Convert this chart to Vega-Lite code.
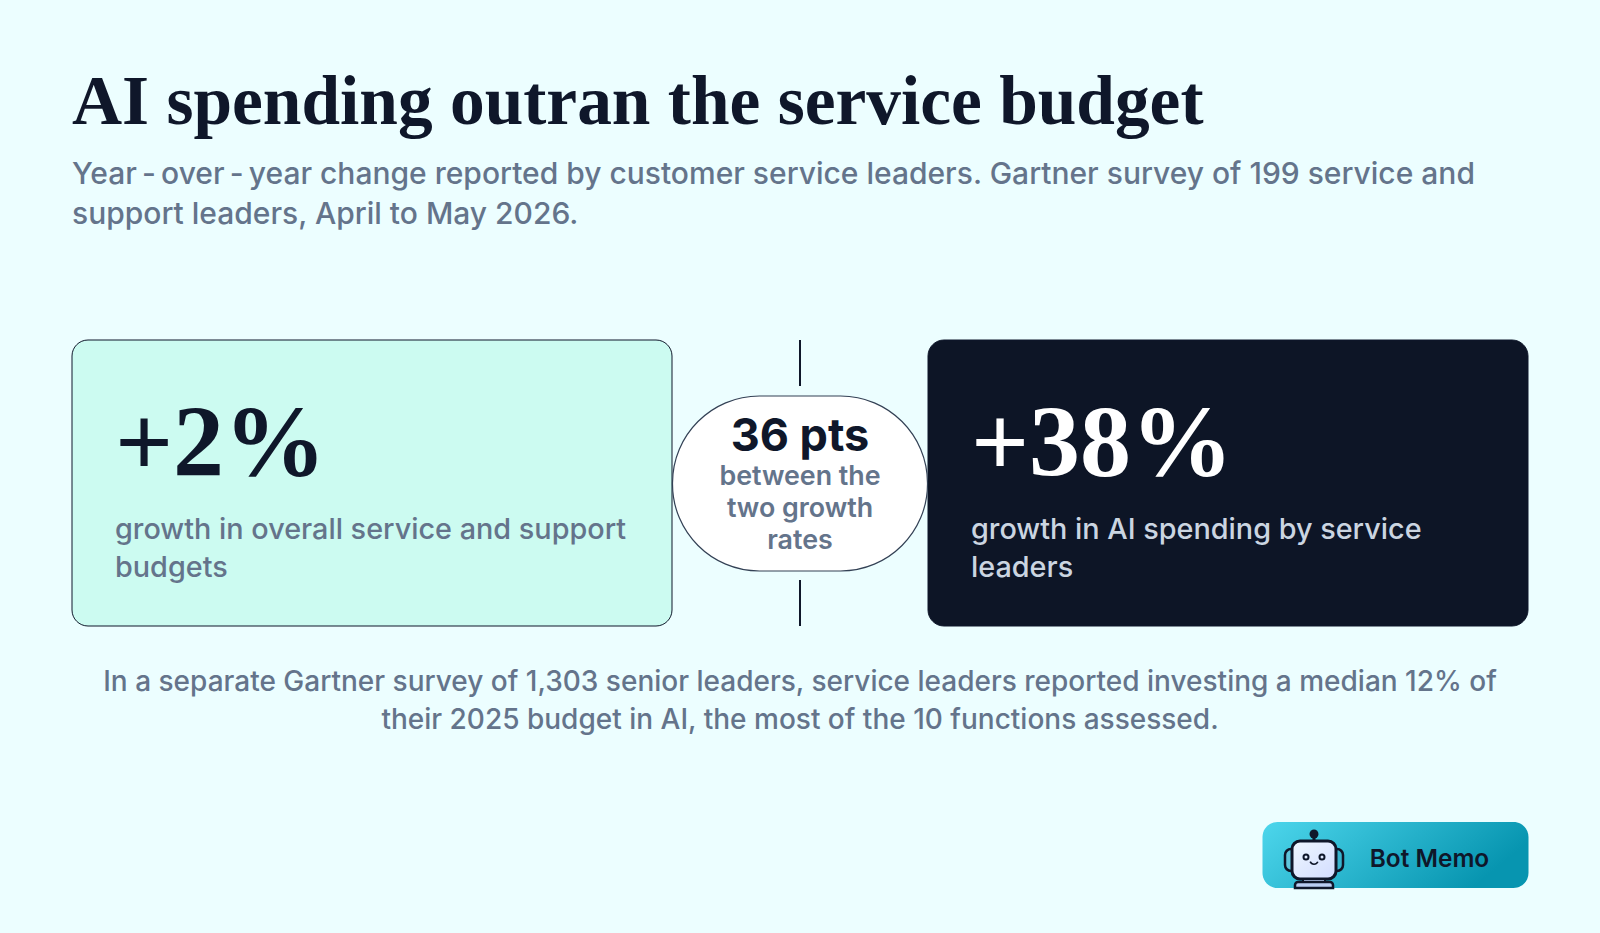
{
  "$schema": "https://vega.github.io/schema/vega-lite/v6.json",
  "description": "Year-over-year change in service budgets vs AI spending",
  "width": 1600,
  "height": 933,
  "padding": 0,
  "autosize": "none",
  "background": "#ecfeff",
  "title": {
    "text": "AI spending outran the service budget",
    "subtitle": ["Year\u2009-\u2009over\u2009-\u2009year change reported by customer service leaders. Gartner survey of 199 service and", "support leaders, April to May 2026."],
    "anchor": "start",
    "frame": "group",
    "dx": 72,
    "dy": 235,
    "font": "Liberation Serif",
    "fontSize": 69.4,
    "fontWeight": "bold",
    "color": "#0f172a",
    "subtitleFont": "Inter",
    "subtitleFontSize": 30,
    "subtitleFontWeight": 500,
    "subtitleColor": "#64748b",
    "subtitleLineHeight": 40,
    "subtitlePadding": 22
  },
  "config": {"view": {"stroke": null}, "text": {"lineBreak": "\n"}},
  "datasets": {
    "panels": [
      {"panel": "budget", "level": "middle", "growth": 0.02, "caption": "growth in overall service and support\nbudgets"},
      {"panel": "ai", "level": "middle", "growth": 0.38, "caption": "growth in AI spending by service\nleaders"}
    ],
    "gap": [
      {"panel": "gap", "level": "middle", "points": "36 pts", "detail": "between the\ntwo growth\nrates"}
    ],
    "connectors": [
      {"panel": "gap", "level": "upper"},
      {"panel": "gap", "level": "lower"}
    ],
    "note": [
      {"panel": "gap", "level": "note", "text": "In a separate Gartner survey of 1,303 senior leaders, service leaders reported investing a median 12% of\ntheir 2025 budget in AI, the most of the 10 functions assessed."}
    ],
    "badge": [
      {"item": "badge", "row": "badge", "brand": "Bot Memo"}
    ],
    "icon": [
      {"item": "icon", "row": "badge"}
    ]
  },
  "resolve": {"scale": {"x": "independent", "y": "independent"}},
  "layer": [
    {
      "encoding": {
        "x": {"field": "panel", "type": "nominal", "axis": null, "scale": {"type": "point", "padding": 0, "domain": ["budget", "gap", "ai"], "range": [372, 1228]}},
        "y": {"field": "level", "type": "nominal", "axis": null, "scale": {"type": "point", "padding": 0, "domain": ["upper", "middle", "lower", "note"], "range": [362.5, 722.5]}}
      },
      "resolve": {"scale": {"color": "independent", "fill": "independent"}},
      "layer": [
        {
          "data": {"name": "panels"},
          "mark": {"type": "rect", "width": 600, "height": 286, "cornerRadius": 16, "stroke": "#0f172a", "strokeWidth": 1, "yOffset": 0.5},
          "encoding": {"fill": {"field": "panel", "type": "nominal", "legend": null, "scale": {"domain": ["budget", "ai"], "range": ["#ccfbf1", "#0d1526"]}}}
        },
        {
          "data": {"name": "connectors"},
          "mark": {"type": "rect", "width": 2, "height": 46, "fill": "#0f172a", "yOffset": 0.5}
        },
        {
          "data": {"name": "gap"},
          "mark": {"type": "rect", "width": 255, "height": 175, "cornerRadius": 87, "fill": "#ffffff", "stroke": "#334155", "strokeWidth": 1.2, "yOffset": 1}
        },
        {
          "data": {"name": "panels"},
          "mark": {"type": "text", "align": "left", "baseline": "alphabetic", "dx": -257, "dy": -7, "font": "Liberation Serif", "fontWeight": "bold", "fontSize": 102},
          "encoding": {
            "text": {"field": "growth", "type": "quantitative", "format": "+.0%"},
            "color": {"field": "panel", "type": "nominal", "legend": null, "scale": {"domain": ["budget", "ai"], "range": ["#0f172a", "#ffffff"]}}
          }
        },
        {
          "data": {"name": "panels"},
          "mark": {"type": "text", "align": "left", "baseline": "middle", "dx": -257, "dy": 47, "font": "Inter", "fontWeight": 500, "fontSize": 28.8, "lineHeight": 38},
          "encoding": {
            "text": {"field": "caption"},
            "color": {"field": "panel", "type": "nominal", "legend": null, "scale": {"domain": ["budget", "ai"], "range": ["#64748b", "#cbd5e1"]}}
          }
        },
        {
          "data": {"name": "gap"},
          "mark": {"type": "text", "align": "center", "baseline": "middle", "dy": -46, "font": "Inter", "fontWeight": 700, "fontSize": 45, "color": "#0f172a"},
          "encoding": {"text": {"field": "points"}}
        },
        {
          "data": {"name": "gap"},
          "mark": {"type": "text", "align": "center", "baseline": "middle", "dy": -6, "font": "Inter", "fontWeight": 600, "fontSize": 26.8, "lineHeight": 32, "color": "#64748b"},
          "encoding": {"text": {"field": "detail"}}
        },
        {
          "data": {"name": "note"},
          "mark": {"type": "text", "align": "center", "baseline": "middle", "dy": -40, "font": "Inter", "fontWeight": 500, "fontSize": 28, "lineHeight": 38, "color": "#64748b"},
          "encoding": {"text": {"field": "text"}}
        }
      ]
    },
    {
      "encoding": {
        "x": {"field": "item", "type": "nominal", "axis": null, "scale": {"type": "point", "padding": 0, "domain": ["icon", "badge"], "range": [1314, 1395]}},
        "y": {"field": "row", "type": "nominal", "axis": null, "scale": {"type": "point", "padding": 0, "domain": ["badge", "end"], "range": [855, 900]}}
      },
      "layer": [
        {
          "data": {"name": "badge"},
          "mark": {"type": "rect", "width": 266, "height": 66, "cornerRadius": 15, "xOffset": 0.5, "fill": {"gradient": "linear", "x1": 0, "y1": 0, "x2": 1, "y2": 0.3, "stops": [{"offset": 0, "color": "#4dd6ec"}, {"offset": 1, "color": "#0795b0"}]}}
        },
        {
          "data": {"name": "badge"},
          "mark": {"type": "text", "align": "center", "baseline": "middle", "dx": 34.5, "dy": 5, "font": "Inter", "fontWeight": 600, "fontSize": 24.4, "color": "#0f172a"},
          "encoding": {"text": {"field": "brand"}}
        },
        {
          "data": {"name": "icon"},
          "mark": {"type": "rect", "width": 3, "height": 8, "yOffset": -17, "fill": "#0f172a"}
        },
        {
          "data": {"name": "icon"},
          "mark": {"type": "point", "shape": "circle", "size": 80, "filled": true, "opacity": 1, "color": "#0f172a", "yOffset": -21}
        },
        {
          "data": {"name": "icon"},
          "mark": {"type": "rect", "width": 12, "height": 22, "cornerRadius": 6, "xOffset": -23, "yOffset": 5, "fill": "#5fc6dc", "stroke": "#0f172a", "strokeWidth": 2.5}
        },
        {
          "data": {"name": "icon"},
          "mark": {"type": "rect", "width": 12, "height": 22, "cornerRadius": 6, "xOffset": 23, "yOffset": 5, "fill": "#38b6cf", "stroke": "#0f172a", "strokeWidth": 2.5}
        },
        {
          "data": {"name": "icon"},
          "mark": {"type": "rect", "width": 44, "height": 38, "cornerRadius": 8, "yOffset": 5, "stroke": "#0f172a", "strokeWidth": 3, "fill": {"gradient": "linear", "x1": 0, "y1": 0, "x2": 1, "y2": 1, "stops": [{"offset": 0, "color": "#eef7ff"}, {"offset": 1, "color": "#d2dcff"}]}}
        },
        {
          "data": {"name": "icon"},
          "mark": {"type": "rect", "width": 22, "height": 4, "yOffset": 26, "fill": "#b9cdf2", "stroke": "#0f172a", "strokeWidth": 2}
        },
        {
          "data": {"name": "icon"},
          "mark": {"type": "rect", "width": 38, "height": 6, "yOffset": 30, "cornerRadiusTopLeft": 5, "cornerRadiusTopRight": 5, "fill": "#b9cdf2", "stroke": "#0f172a", "strokeWidth": 2.5}
        },
        {
          "data": {"name": "icon"},
          "mark": {"type": "point", "shape": "circle", "size": 25, "filled": false, "opacity": 1, "stroke": "#0f172a", "strokeWidth": 2, "xOffset": -8, "yOffset": 2}
        },
        {
          "data": {"name": "icon"},
          "mark": {"type": "point", "shape": "circle", "size": 25, "filled": false, "opacity": 1, "stroke": "#0f172a", "strokeWidth": 2, "xOffset": 8, "yOffset": 2}
        },
        {
          "data": {"name": "icon"},
          "mark": {"type": "arc", "radius": 5, "radius2": 3.4, "theta": 2, "theta2": 4.3, "fill": "#0f172a", "yOffset": 5}
        }
      ]
    }
  ]
}
